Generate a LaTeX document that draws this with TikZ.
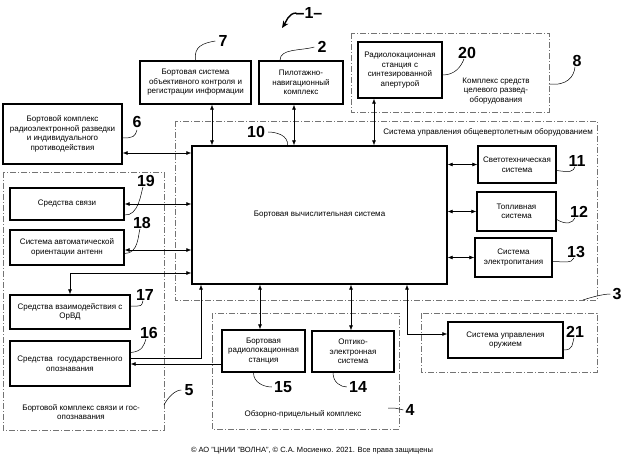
\documentclass[tikz,border=0pt]{standalone}
\usepackage{fontspec}
\setmainfont{Liberation Sans}
\usetikzlibrary{arrows.meta, positioning}

\tikzset{
  blk/.style={draw, line width=1.4pt, align=center, inner sep=1pt,
    font=\fontsize{8}{9.5}\selectfont},
  grp/.style={draw=black!55, line width=0.6pt, dash pattern=on 6pt off 2pt on 1pt off 2pt},
  txt/.style={align=center, inner sep=0pt, font=\fontsize{8}{9.5}\selectfont},
  num/.style={inner sep=0pt, font=\fontsize{16}{16}\selectfont\bfseries},
  dbl/.style={line width=0.6pt, {Latex[length=5pt,width=4pt]}-{Latex[length=5pt,width=4pt]}},
  arr/.style={line width=0.6pt, -{Latex[length=5pt,width=4pt]}},
  lead/.style={line width=0.5pt}
}

\begin{document}
\begin{tikzpicture}[x=1pt,y=-1pt]
    \useasboundingbox (0,0) rectangle (624,457);

    % group frames
    \draw[grp] (351,33) rectangle (549,112);
    \draw[grp] (175,121) rectangle (597,300);
    \draw[grp] (3,172) rectangle (164,430);
    \draw[grp] (212,313) rectangle (399,429);
    \draw[grp] (421,313) rectangle (597,372);

    % group captions
    \node[txt] (t8) at (496,91) {Комплекс средств\\целевого развед-\\оборудования};
    \node[txt, anchor=east] (t3) at (593,132) {Система управления общевертолетным оборудованием};
    \node[txt] (t5) at (81,412) {Бортовой комплекс связи и гос-\\опознавания};
    \node[txt] (t4) at (303,414) {Обзорно-прицельный комплекс};

    % blocks
    \node[blk, minimum width=111pt, minimum height=43pt] (b7) at (195.5,82.5)
        {Бортовая система\\объективного контроля и\\регистрации информации};
    \node[blk, minimum width=84pt, minimum height=43pt] (b2) at (301,82.5)
        {Пилотажно-\\навигационный\\комплекс};
    \node[blk, minimum width=84pt, minimum height=56pt] (b20) at (400,70)
        {Радиолокационная\\станция с\\синтезированной\\апертурой};
    \node[blk, minimum width=119pt, minimum height=60pt] (b6) at (62.5,134)
        {Бортовой комплекс\\радиоэлектронной разведки\\и индивидуального\\противодействия};
    \node[blk, minimum width=255pt, minimum height=138pt] (bvs) at (319.5,215)
        {Бортовая вычислительная система};
    \node[blk, minimum width=78pt, minimum height=37pt] (b11) at (517,164.5)
        {Светотехническая\\система};
    \node[blk, minimum width=79pt, minimum height=39pt] (b12) at (516.5,211.5)
        {Топливная\\система};
    \node[blk, minimum width=77pt, minimum height=39pt] (b13) at (513.5,257.5)
        {Система\\электропитания};
    \node[blk, minimum width=114pt, minimum height=32pt] (b19) at (67,204)
        {Средства связи};
    \node[blk, minimum width=114pt, minimum height=35pt] (b18) at (67,247.5)
        {Система автоматической\\ориентации антенн};
    \node[blk, minimum width=120pt, minimum height=34pt] (b17) at (70,312)
        {Средства взаимодействия с\\ОрВД};
    \node[blk, minimum width=120pt, minimum height=45pt] (b16) at (70,363.5)
        {Средства\ \ государственного\\опознавания};
    \node[blk, minimum width=83pt, minimum height=42pt] (b15) at (263.5,351)
        {Бортовая\\радиолокационная\\станция};
    \node[blk, minimum width=82pt, minimum height=41pt] (b14) at (353,351.5)
        {Оптико-\\электронная\\система};
    \node[blk, minimum width=115pt, minimum height=36pt] (b21) at (505.5,340)
        {Система управления\\оружием};

    % connectors
    \draw[dbl] ([xshift=16.5pt]b7.south) -- ([xshift=16.5pt]b7.south |- bvs.north);
    \draw[dbl] ([xshift=-7pt]b2.south) -- ([xshift=-7pt]b2.south |- bvs.north);
    \draw[dbl] ([xshift=-26pt]b20.south) -- ([xshift=-26pt]b20.south |- bvs.north);
    \draw[dbl] ([yshift=-19pt]b6.east) -- ([yshift=-19pt]b6.east -| bvs.west);
    \draw[dbl] (b19.east) -- (b19.east -| bvs.west);
    \draw[dbl] ([yshift=-2.5pt]b18.east) -- ([yshift=-2.5pt]b18.east -| bvs.west);
    \draw[dbl] ([yshift=-58pt]bvs.west) -| (b17.north);
    \draw[arr] ([yshift=5.5pt]b16.east) -| ([xshift=-118.5pt]bvs.south);
    \draw[arr] ([yshift=-13pt]b15.west) -- ([yshift=-13pt]b15.west -| b16.east);
    \draw[dbl] ([xshift=-3.5pt]b15.north) -- ([xshift=-3.5pt]b15.north |- bvs.south);
    \draw[dbl] ([xshift=-2pt]b14.north) -- ([xshift=-2pt]b14.north |- bvs.south);
    \draw[dbl] ([xshift=87.5pt]bvs.south) |- ([yshift=6pt]b21.west);
    \foreach \b in {b11,b12,b13}
        \draw[dbl] (\b.west -| bvs.east) -- (\b.west);

    % reference numbers
    \node[num] (n1) at (309,13) {–1–};
    \coordinate (p1) at (282,28);
    \draw[line width=1.4pt, -{Stealth[length=7pt,width=6pt]}] ([xshift=1pt]n1.west)
        .. controls +(-8,0) and +(4,-6) .. (p1);
    \node[num] (n2) at (322,47) {2};
    \node[num] (n3) at (617,294) {3};
    \node[num] (n4) at (410,410) {4};
    \node[num] (n5) at (189,390) {5};
    \node[num] (n6) at (137,122) {6};
    \node[num] (n7) at (223,41) {7};
    \node[num] (n8) at (577,61) {8};
    \node[num] (n10) at (256,132) {10};
    \node[num] (n11) at (577,161) {11};
    \node[num] (n12) at (579,212) {12};
    \node[num] (n13) at (576,252) {13};
    \node[num] (n14) at (358,387) {14};
    \node[num] (n15) at (283,387) {15};
    \node[num] (n16) at (149,333) {16};
    \node[num] (n17) at (145,295) {17};
    \node[num] (n18) at (142,223) {18};
    \node[num] (n19) at (146,181) {19};
    \node[num] (n20) at (467,53) {20};
    \node[num] (n21) at (575,332) {21};

    % leader lines
    \coordinate (c3) at (583,300);
    \coordinate (c4) at (388,408);
    \coordinate (c5) at (164,405);
    \coordinate (c8) at (549,84);
    \draw[lead] (b7.north) .. controls +(-2,-14) and +(-12,2) .. ([xshift=-3pt]n7.west);
    \draw[lead] ([xshift=-21pt]b2.north) .. controls +(0,-12) and +(-14,4) .. ([xshift=-3pt]n2.west);
    \draw[lead] ([yshift=-5pt]b20.east) .. controls +(12,0) and +(-3,8) .. ([xshift=-3pt]n20.south);
    \draw[lead] (c8) .. controls +(18,2) and +(-1,10) .. ([xshift=-2pt]n8.south);
    \draw[lead] ([yshift=-4pt]b6.east) .. controls +(10,0) and +(-2,7) .. ([yshift=-2pt]n6.south);
    \draw[lead] ([xshift=-32pt]bvs.north) .. controls +(1,-10) and +(8,0) .. ([xshift=3pt]n10.east);
    \draw[lead] ([yshift=-6pt]b11.east) .. controls +(14,2) and +(-2,5) .. ([xshift=-2pt]n11.south);
    \draw[lead] ([yshift=-8pt]b12.east) .. controls +(10,6) and +(-2,5) .. ([xshift=-4pt]n12.south);
    \draw[lead] ([yshift=-4pt]b13.east) .. controls +(10,0) and +(-2,6) .. ([xshift=-2pt]n13.south);
    \draw[lead] (c3) .. controls +(6,-2) and +(-8,0) .. ([xshift=-2pt]n3.west);
    \draw[lead] ([yshift=-11pt]b19.east) .. controls +(14,1) and +(-2,6) .. ([xshift=-3pt]n19.south);
    \draw[lead] ([yshift=-6pt]b18.east) .. controls +(14,0) and +(-2,6) .. ([xshift=-2pt]n18.south);
    \draw[lead] ([yshift=6pt]b17.east) .. controls +(12,0) and +(-2,6) .. ([xshift=-2pt]n17.south);
    \draw[lead] ([yshift=11pt]b16.east) .. controls +(12,-1) and +(-2,6) .. ([xshift=-3pt]n16.south);
    \draw[lead] (c5) .. controls +(4,-8) and +(-6,0) .. ([xshift=-3pt]n5.west);
    \draw[lead] ([xshift=-10pt]b15.south) .. controls +(0,10) and +(-8,0) .. ([xshift=-2pt]n15.west);
    \draw[lead] ([xshift=-20pt]b14.south) .. controls +(0,10) and +(-6,0) .. ([xshift=-2pt]n14.west);
    \draw[lead] (c4) .. controls +(8,0) and +(-8,-2) .. ([xshift=-2pt]n4.west);
    \draw[lead] ([yshift=-10pt]b21.east) .. controls +(10,0) and +(-2,6) .. ([xshift=-1pt]n21.south);

    % copyright
    \node[font=\fontsize{7.5}{9}\selectfont, inner sep=0pt] (copy) at (312,451)
        {© АО "ЦНИИ "ВОЛНА", © С.А. Мосиенко. 2021. Все права защищены};
\end{tikzpicture}
\end{document}
